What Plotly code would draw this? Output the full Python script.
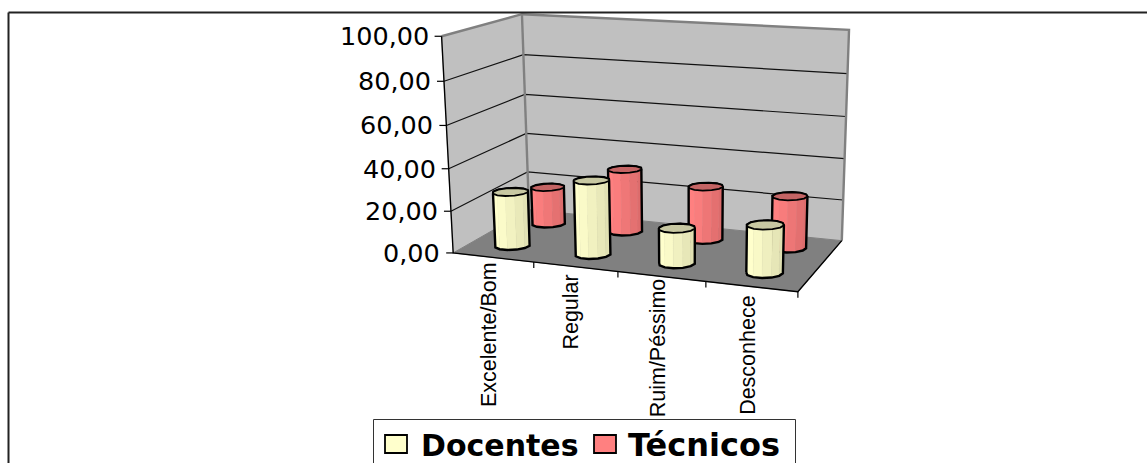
import numpy as np
import plotly.graph_objects as go

# Chart data
categories = ["Excelente/Bom", "Regular", "Ruim/Péssimo", "Desconhece"]
docentes = [26, 35, 16.5, 22]
tecnicos = [18.5, 31, 26, 25]
y_ticks = [0, 20, 40, 60, 80, 100]
y_labels = ["0,00", "20,00", "40,00", "60,00", "80,00", "100,00"]

WIDTH, HEIGHT = 1147, 463
Y_MAX = 100

# Camera calibration: box corners (category, depth, height) and where they land on the page
BOX = [(0, 0, 0), (0, 0, 1), (0, 1, 1), (0, 1, 0), (1, 1, 1), (1, 1, 0), (1, 0, 0)]
PAGE = [(452.3, 252.7), (442.7, 36), (520.7, 14.3), (530, 210),
        (849.3, 30), (841.7, 240), (797.7, 292.3)]


def solve_camera(box, page):
    rows, rhs = [], []
    for (u, v, w), (x, y) in zip(box, page):
        rows.append([u, v, w, 1, 0, 0, 0, 0, -x * u, -x * v, -x * w])
        rhs.append(x)
        rows.append([0, 0, 0, 0, u, v, w, 1, -y * u, -y * v, -y * w])
        rhs.append(y)
    sol = np.linalg.lstsq(np.array(rows, float), np.array(rhs, float), rcond=None)[0]
    return np.append(sol, 1).reshape(3, 4)


CAMERA = solve_camera(BOX, PAGE)


def project(u, v, w):
    px, py, pz = CAMERA @ np.array([u, v, w, 1.0])
    return px / pz, py / pz


def path(points, close=True):
    pts = [project(*p) for p in points]
    if close:
        pts.append(pts[0])
    return [p[0] for p in pts], [p[1] for p in pts]


fig = go.Figure()


def add_poly(xs, ys, fill=None, line=None, width=1.0):
    fig.add_trace(go.Scatter(
        x=xs, y=ys, mode="lines", hoverinfo="skip", showlegend=False,
        fill="toself" if fill else "none", fillcolor=fill,
        line=dict(color=line or fill or "rgba(0,0,0,0)", width=width if line or fill else 0),
    ))


WALL = "#C0C0C0"
WALL_EDGE = "#808080"
FLOOR = "#808080"
GRID = "#111111"

# Side wall, back wall and floor
add_poly(*path([(0, 0, 0), (0, 1, 0), (0, 1, 1), (0, 0, 1)]), fill=WALL)
add_poly(*path([(0, 1, 0), (1, 1, 0), (1, 1, 1), (0, 1, 1)]), fill=WALL)
add_poly(*path([(0, 0, 0), (1, 0, 0), (1, 1, 0), (0, 1, 0)]), fill=FLOOR)

# Gridlines along both walls, one per value tick
for t in y_ticks[1:-1]:
    w = t / Y_MAX
    add_poly(*path([(0, 0, w), (0, 1, w), (1, 1, w)], close=False), line=GRID, width=1.2)

# Wall outlines
add_poly(*path([(0, 0, 1), (0, 1, 1), (1, 1, 1), (1, 1, 0)], close=False), line=WALL_EDGE, width=2.4)
add_poly(*path([(0, 1, 0), (0, 1, 1)], close=False), line=WALL_EDGE, width=2.4)

# Axis lines and tick marks
add_poly(*path([(0, 0, 1), (0, 0, 0), (1, 0, 0), (1, 1, 0)], close=False), line="#000000", width=1.4)
for t in y_ticks:
    x0, y0 = project(0, 0, t / Y_MAX)
    add_poly([x0, x0 - 7], [y0, y0], line="#000000", width=1.2)
for i in range(1, len(categories) + 1):
    x0, y0 = project(i / len(categories), 0, 0)
    add_poly([x0, x0], [y0, y0 + 6], line="#000000", width=1.2)


def convex_hull(points):
    pts = sorted(set(points))

    def half(seq):
        out = []
        for p in seq:
            while len(out) > 1 and ((out[-1][0] - out[-2][0]) * (p[1] - out[-2][1])
                                    - (out[-1][1] - out[-2][1]) * (p[0] - out[-2][0])) <= 0:
                out.pop()
            out.append(p)
        return out[:-1]

    return half(pts) + half(pts[::-1])


def mix(a, b, s):
    c = [round(a[k] + (b[k] - a[k]) * s) for k in range(3)]
    return f"rgb({c[0]},{c[1]},{c[2]})"


SIDES = 12
RADIUS_U = 0.044
RADIUS_V = 0.082
SKEW = 0.018  # keeps the cap centred over its base on the page
TILT = 0.05   # keeps the cap level on the page despite the sloping floor edge


def draw_cylinder(uc, vc, value, light, dark, cap):
    w = value / Y_MAX
    angles = np.pi / SIDES + 2 * np.pi * np.arange(SIDES) / SIDES
    rim = [(uc + RADIUS_U * np.cos(a) - SKEW * np.sin(a),
            vc + RADIUS_V * np.sin(a) + TILT * np.cos(a)) for a in angles]
    low = [project(u, v, 0) for u, v in rim]
    high = [project(u, v, w) for u, v in rim]
    hull = convex_hull(low + high)
    left = min(p[0] for p in hull)
    right = max(p[0] for p in hull)
    for k in range(SIDES):
        k2 = (k + 1) % SIDES
        # Only the facets turned towards the viewer are painted
        if np.sin(angles[k] + np.pi / SIDES) > 0.0:
            continue
        quad = [low[k], low[k2], high[k2], high[k]]
        s = (np.mean([p[0] for p in quad]) - left) / (right - left)
        tone = mix(light, dark, min(1.0, max(0.0, (s - 0.15) / 0.8)))
        add_poly([p[0] for p in quad] + [quad[0][0]], [p[1] for p in quad] + [quad[0][1]],
                 fill=tone, line=tone, width=0.5)
    add_poly([p[0] for p in hull] + [hull[0][0]], [p[1] for p in hull] + [hull[0][1]],
             line="#000000", width=2.4)
    add_poly([p[0] for p in high] + [high[0][0]], [p[1] for p in high] + [high[0][1]],
             fill=cap, line="#000000", width=1.8)


n = len(categories)
# Back row first so the front row overlaps it
for i, value in enumerate(tecnicos):
    draw_cylinder((i + 0.5) / n, 0.75, value, (255, 128, 128), (220, 108, 108), "#C46464")
for i, value in enumerate(docentes):
    draw_cylinder((i + 0.5) / n, 0.25, value, (255, 255, 204), (224, 224, 178), "#C8C8A2")

# Value axis labels
annotations = []
for t, label in zip(y_ticks, y_labels):
    x0, y0 = project(0, 0, t / Y_MAX)
    annotations.append(dict(x=x0, y=y0, xref="x", yref="y", text=label, showarrow=False,
                            xanchor="right", yanchor="middle", xshift=-11,
                            font=dict(family="DejaVu Sans", size=25.5, color="#000000")))

# Category labels hang from the front floor edge
label_lift = [3, 0, 6, 0]
for i, label in enumerate(categories):
    x0, y0 = project((i + 0.5) / n, 0, 0)
    annotations.append(dict(x=x0, y=y0, xref="x", yref="y", text=label, showarrow=False,
                            textangle=-90, xanchor="center", yanchor="top", xshift=-4,
                            yshift=-6 + label_lift[i],
                            font=dict(family="Liberation Sans", size=21.5, color="#000000")))

# Legend text
legend_items = [("Docentes", 419, "#FFFFCC", 385, 30), ("Técnicos", 626, "#FF8080", 594, 32)]
shapes = [
    dict(type="line", xref="x", yref="y", x0=8.5, x1=WIDTH, y0=12.5, y1=12.5,
         line=dict(color="#222222", width=2)),
    dict(type="line", xref="x", yref="y", x0=8.5, x1=8.5, y0=12.5, y1=HEIGHT,
         line=dict(color="#222222", width=2)),
    dict(type="rect", xref="x", yref="y", x0=373.5, x1=795.5, y0=419.5, y1=HEIGHT + 5,
         line=dict(color="#333333", width=1), fillcolor="#FFFFFF", layer="above"),
]
for name, tx, colour, sx, size in legend_items:
    shapes.append(dict(type="rect", xref="x", yref="y", x0=sx, x1=sx + 22, y0=435, y1=453,
                       line=dict(color="#000000", width=1.8), fillcolor=colour, layer="above"))
    annotations.append(dict(x=tx, y=445, xref="x", yref="y", text=f"<b>{name}</b>", showarrow=False,
                            xanchor="left", yanchor="middle",
                            font=dict(family="DejaVu Sans", size=size, color="#000000")))

fig.update_layout(
    width=WIDTH, height=HEIGHT, autosize=False,
    margin=dict(l=0, r=0, t=0, b=0),
    paper_bgcolor="#FFFFFF", plot_bgcolor="#FFFFFF",
    xaxis=dict(range=[0, WIDTH], visible=False, fixedrange=True),
    yaxis=dict(range=[HEIGHT, 0], visible=False, fixedrange=True),
    shapes=shapes, annotations=annotations, showlegend=False,
)

fig.write_html("out.html", config={"displayModeBar": False})
